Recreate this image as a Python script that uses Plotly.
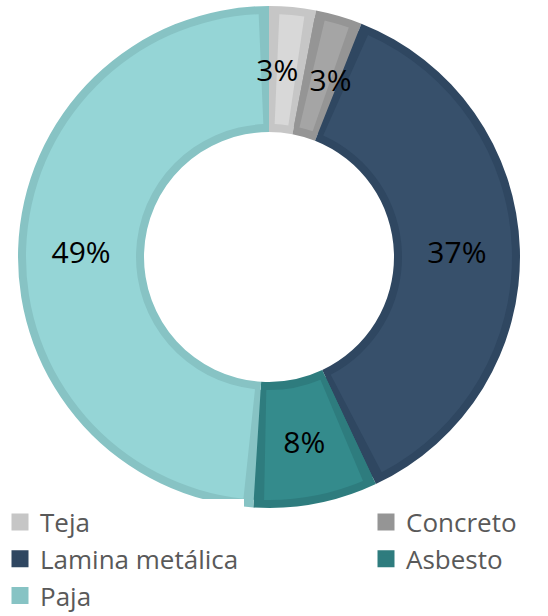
import plotly.graph_objects as go

# ---- data ----
categories = ["Teja", "Concreto", "Lamina metálica", "Asbesto", "Paja"]
values = [3, 3, 37, 8, 49]

# ---- styles ----
border_colors = ["#c6c6c6", "#959595", "#2f4761", "#2e7c7e", "#87c3c4"]
fill_colors = ["#d8d8d8", "#a5a5a5", "#37506b", "#348b8c", "#95d5d6"]

W, H = 548, 616
CX, CY = 269, 257          # pie centre in px
R_OUT, R_IN = 251, 125     # ring radii in px
BORDER = 8                 # border thickness in px
# angular nudge (degrees) of each label, keeps the two 3% labels apart
label_shift_deg = [-2.9, 2.9, 0.0, 0.0, 0.0]
PI = 3.141592653589793


def dom(r):
    return dict(x=[(CX - r) / W, (CX + r) / W],
                y=[1 - (CY + r) / H, 1 - (CY - r) / H])


total = sum(values)
fig = go.Figure()

# legend carrier traces (hidden under the ring)
col1 = [0, 2, 4]
col2 = [1, 3]
r_leg = R_OUT - 12
for idx, lg in ((col1, "legend"), (col2, "legend2")):
    fig.add_trace(go.Pie(
        labels=[categories[i] for i in idx],
        values=[values[i] for i in idx],
        marker=dict(colors=[border_colors[i] for i in idx],
                    line=dict(color=[border_colors[i] for i in idx], width=8)),
        sort=False, direction="clockwise", rotation=0,
        hole=(R_IN + 12) / r_leg, domain=dom(r_leg),
        textinfo="none", hoverinfo="skip", legend=lg, showlegend=True,
    ))

# border layer (full slices)
fig.add_trace(go.Pie(
    labels=categories, values=values,
    marker=dict(colors=border_colors, line=dict(width=0)),
    sort=False, direction="clockwise", rotation=0,
    hole=R_IN / R_OUT, domain=dom(R_OUT),
    textinfo="none", hoverinfo="skip", showlegend=False,
))

# fill layer (inset slices with transparent gaps)
r_f_out = R_OUT - BORDER
r_f_in = R_IN + BORDER
r_mid = (r_f_out + r_f_in) / 2
gap = BORDER / (2 * PI * r_mid) * total
f_labels, f_values, f_colors = [], [], []
for i, (c, v) in enumerate(zip(categories, values)):
    f_labels += [f"_g{i}a", c + " ", f"_g{i}b"]
    f_values += [gap, v - 2 * gap, gap]
    f_colors += ["rgba(0,0,0,0)", fill_colors[i], "rgba(0,0,0,0)"]

fig.add_trace(go.Pie(
    labels=f_labels, values=f_values,
    marker=dict(colors=f_colors, line=dict(width=0)),
    sort=False, direction="clockwise", rotation=0,
    hole=r_f_in / r_f_out, domain=dom(r_f_out),
    textinfo="none", hoverinfo="skip", showlegend=False,
))

# text layer: thin transparent ring at the middle radius, one narrow
# window per slice (centred on the slice, plus nudge) carries the % label
r_t_out = r_mid + 8
r_t_in = r_mid - 8
win = 5.0 / 360 * total
t_labels, t_values, t_text = [], [], []
for i, (c, v) in enumerate(zip(categories, values)):
    sh = label_shift_deg[i] / 360 * total
    t_labels += [f"_t{i}a", c + "  ", f"_t{i}b"]
    t_values += [v / 2 - win / 2 + sh, win, v / 2 - win / 2 - sh]
    t_text += ["", f"{round(v / total * 100)}%", ""]

fig.add_trace(go.Pie(
    labels=t_labels, values=t_values, text=t_text,
    marker=dict(colors=["rgba(0,0,0,0)"] * len(t_values), line=dict(width=0)),
    sort=False, direction="clockwise", rotation=0,
    hole=r_t_in / r_t_out, domain=dom(r_t_out),
    textinfo="text", textposition="inside", insidetextorientation="horizontal",
    textfont=dict(family="Open Sans", size=30, color="#000000"),
    hoverinfo="skip", showlegend=False,
))

fig.update_layout(
    width=W, height=H,
    margin=dict(l=0, r=0, t=0, b=0, autoexpand=False),
    paper_bgcolor="white", plot_bgcolor="white",
    uniformtext=dict(minsize=30, mode="show"),
    legend=dict(x=0, y=1 - 498.5 / H, xanchor="left", yanchor="top",
                orientation="v", traceorder="normal",
                font=dict(family="Open Sans", size=26, color="#595959")),
    legend2=dict(x=366 / W, y=1 - 498.5 / H, xanchor="left", yanchor="top",
                 orientation="v", traceorder="normal",
                 font=dict(family="Open Sans", size=26, color="#595959")),
)

fig.write_html("out.html", config={"displayModeBar": False},
               post_script="document.body.style.margin='0';")
